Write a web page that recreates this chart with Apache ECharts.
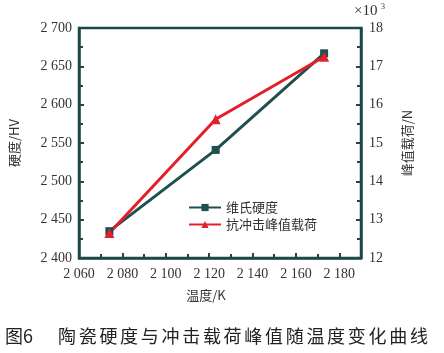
<!DOCTYPE html>
<html>
<head>
<meta charset="utf-8">
<script src="https://cdn.jsdelivr.net/npm/echarts@6/dist/echarts.min.js"></script>
<style>
  html, body { margin: 0; padding: 0; background: #fff; }
  #chart { width: 444px; height: 353px; }
</style>
</head>
<body>
<div id="chart"></div>
<script>
// data
const temps = [2074, 2123, 2173];
const hardness = [2435, 2541, 2667];      // HV
const peakLoad = [12.65, 15.62, 17.25];   // x10^3 N
const seriesNames = ['维氏硬度', '抗冲击峰值载荷'];
const caption = '陶瓷硬度与冲击载荷峰值随温度变化曲线';

const axisColor = '#1e4848';
const teal = '#1f4f4f';
const red = '#e3202a';
const serif = '"Liberation Serif", "Times New Roman", serif';
const cjk = '"Noto Sans CJK SC", sans-serif';

const spaced = v => {
    const s = String(Math.round(v));
    return s.length > 3 ? s.slice(0, s.length - 3) + ' ' + s.slice(-3) : s;
};

const chart = echarts.init(document.getElementById('chart'));

const axisCommon = {
    axisLine: { show: true, lineStyle: { color: axisColor, width: 2.5 } },
    axisTick: { show: true, inside: true, length: 5, lineStyle: { color: axisColor, width: 2 } },
    minorTick: { show: true, splitNumber: 2, length: 4, lineStyle: { color: axisColor, width: 2 } },
    splitLine: { show: false },
    nameTextStyle: { fontFamily: cjk, fontSize: 13, color: '#333' }
};

// caption drawn character by character to get the wide spacing of the original
const captionChars = caption.split('').map((ch, i) => ({
    type: 'text', left: 58 + i * 20.7, top: 327,
    style: { text: ch, font: '18px ' + cjk, fill: '#222' }
}));

chart.setOption({
    animation: false,
    backgroundColor: '#fff',
    grid: { left: 77, right: 83, top: 28, bottom: 95, show: true, borderColor: axisColor, borderWidth: 2.5 },
    legend: {
        data: seriesNames,
        orient: 'vertical',
        left: 183,
        top: 196,
        itemWidth: 32,
        itemHeight: 9,
        itemGap: 4,
        textStyle: { fontFamily: cjk, fontSize: 13, color: '#333' }
    },
    xAxis: Object.assign({}, axisCommon, {
        type: 'value',
        min: 2060,
        max: 2190,
        interval: 20,
        name: '温度/K',
        nameLocation: 'middle',
        nameGap: 31,
        nameTextStyle: { fontFamily: cjk, fontSize: 13, color: '#333', padding: [0, 28, 0, 0] },
        axisLabel: {
            fontFamily: serif, fontSize: 14, color: '#333', margin: 9,
            formatter: v => v > 2180 ? '' : spaced(v)
        }
    }),
    yAxis: [
        Object.assign({}, axisCommon, {
            type: 'value',
            min: 2400,
            max: 2700,
            interval: 50,
            name: '硬度/HV',
            nameLocation: 'middle',
            nameRotate: 90,
            nameGap: 58,
            axisLabel: { fontFamily: serif, fontSize: 14, color: '#333', margin: 7, formatter: spaced }
        }),
        Object.assign({}, axisCommon, {
            type: 'value',
            position: 'right',
            min: 12,
            max: 18,
            interval: 1,
            name: '峰值载荷/N',
            nameLocation: 'middle',
            nameRotate: 90,
            nameGap: 40,
            axisLabel: { fontFamily: serif, fontSize: 14, color: '#333', margin: 8 }
        })
    ],
    graphic: [
        {
            type: 'text', left: 354, top: 4,
            style: { text: '×10', font: '15px ' + serif, fill: '#333' }
        },
        {
            type: 'text', left: 381, top: 3,
            style: { text: '3', font: '8px ' + serif, fill: '#333' }
        },
        {
            type: 'text', left: 5, top: 327,
            style: { text: '图6', font: '18px ' + cjk, fill: '#222' }
        }
    ].concat(captionChars),
    series: [
        {
            name: seriesNames[0],
            type: 'line',
            yAxisIndex: 0,
            data: temps.map((t, i) => [t, hardness[i]]),
            symbol: 'rect',
            symbolSize: 8,
            lineStyle: { color: teal, width: 3 },
            itemStyle: { color: teal }
        },
        {
            name: seriesNames[1],
            type: 'line',
            yAxisIndex: 1,
            data: temps.map((t, i) => [t, peakLoad[i]]),
            symbol: 'triangle',
            symbolSize: 10,
            lineStyle: { color: red, width: 3 },
            itemStyle: { color: red }
        }
    ]
});
</script>
</body>
</html>
